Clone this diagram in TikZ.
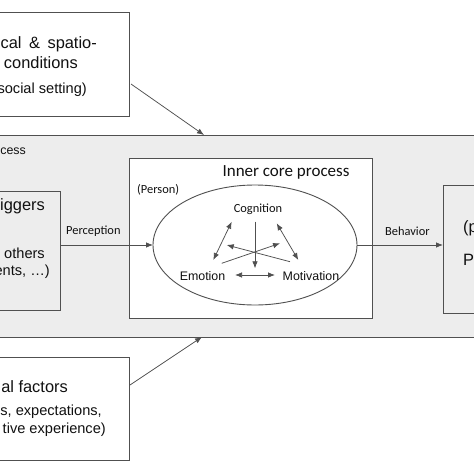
\documentclass[tikz,border=0pt]{standalone}
\usepackage{fontspec}
\setmainfont{Liberation Sans}
\newfontfamily\calfont{Carlito}
\usetikzlibrary{shapes.geometric,arrows.meta,calc}
\definecolor{linec}{HTML}{505050}
\definecolor{bgray}{HTML}{EDEDED}
\definecolor{txt}{HTML}{111111}
\begin{document}
\begin{tikzpicture}[x=1pt,y=-1pt,
  box/.style={draw=linec,line width=0.9pt,rectangle,inner sep=0pt,outer sep=0pt,anchor=north west},
  arr/.style={draw=linec,line width=0.75pt,-{Latex[length=7pt,width=5.5pt]}},
  dbl/.style={draw=linec,line width=0.75pt,{Latex[length=7pt,width=5.5pt]}-{Latex[length=7pt,width=5.5pt]}},
  big/.style={text=txt,inner sep=0pt,font=\fontsize{16.4}{19}\selectfont},
  mid/.style={text=txt,inner sep=0pt,font=\fontsize{14.6}{17}\selectfont},
  sml/.style={text=txt,inner sep=0pt,font=\fontsize{12.4}{15}\selectfont},
  cal/.style={text=txt,inner sep=0pt,font=\calfont\fontsize{12.4}{15}\selectfont}]
\useasboundingbox (0,0) rectangle (474,474);
\clip (0,0) rectangle (474,474);
\fill[white] (0,0) rectangle (474,474);
% boxes
\node[box,fill=bgray,minimum width=520pt,minimum height=202pt] (proc) at (-20,135) {};
\node[box,fill=white,minimum width=270pt,minimum height=104pt] (cond) at (-141,12) {};
\node[box,fill=bgray,minimum width=160pt,minimum height=119pt] (trig) at (-100,191) {};
\node[box,fill=white,minimum width=243pt,minimum height=160pt] (inner) at (129,158) {};
\node[draw=linec,line width=0.9pt,ellipse,fill=white,inner sep=0pt,outer sep=0pt,minimum width=204pt,minimum height=120pt] (ell) at (255,245) {};
\node[box,fill=bgray,minimum width=80pt,minimum height=128pt] (pbox) at (443,185) {};
\node[box,fill=white,minimum width=270pt,minimum height=103pt] (fact) at (-141,357) {};
% texts
\node[big,anchor=base east] (t1) at (97,48) {cal\hspace{3pt} \&\hspace{3pt} spatio-};
\node[big,anchor=base east] (t2) at (78,68) {conditions};
\node[mid,anchor=base east] (t3) at (87,93) {social setting)};
\node[sml,anchor=base east] (t4) at (26,154) {cess};
\node[big,anchor=base east] (t5) at (45,210) {iggers};
\node[mid,anchor=base east] (t6) at (45,258) {others};
\node[mid,anchor=base east] (t7) at (50,275) {ents, …)};
\node[cal,anchor=base west] (per) at (66,234) {Perception};
\node[cal,anchor=base west] (beh) at (385,235) {Behavior};
\node[text=txt,inner sep=0pt,font=\calfont\fontsize{17}{20}\selectfont,anchor=base] (icp) at (286,176) {Inner core process};
\node[cal,anchor=base west] (pers) at (137,193) {(Person)};
\node[cal,anchor=base] (cog) at (258,212) {Cognition};
\node[sml,anchor=base] (emo) at (202.5,280) {Emotion};
\node[sml,anchor=base] (mot) at (311,280) {Motivation};
\node[big,anchor=base west] (t8) at (463,232) {(p};
\node[big,anchor=base west] (t9) at (463,265) {P};
\node[big,anchor=base east] (t10) at (68,392) {al factors};
\node[mid,anchor=base east] (t11) at (102,415) {s, expectations,};
\node[mid,anchor=base east] (t12) at (106,433) {tive experience)};
% outer connectors
\coordinate (c1) at (131,84);
\coordinate (c2) at (204,135);
\draw[arr] (c1) -- (c2);
\coordinate (f1) at (130,385);
\coordinate (f2) at (202,337);
\draw[arr] (f1) -- (f2);
\draw[arr] (trig.east |- ell.west) -- (ell.west);
\draw[arr] (ell.east) -- (ell.east -| pbox.west);
% inner connectors
\coordinate (ce1) at (231.7,221.7);
\coordinate (ce2) at (213.3,260);
\coordinate (cm1) at (276.7,223.3);
\coordinate (cm2) at (298.3,260);
\coordinate (cv1) at (255,221.7);
\coordinate (cv2) at (255,268.3);
\coordinate (ex1) at (221.7,263.3);
\coordinate (ex2) at (280,243.3);
\coordinate (mx1) at (290,261.7);
\coordinate (mx2) at (226.7,245);
\coordinate (em1) at (235,275);
\coordinate (em2) at (275,275);
\draw[dbl] (ce1) -- (ce2);
\draw[dbl] (cm1) -- (cm2);
\draw[arr] (cv1) -- (cv2);
\draw[arr] (ex1) -- (ex2);
\draw[arr] (mx1) -- (mx2);
\draw[dbl] (em1) -- (em2);
\end{tikzpicture}
\end{document}
